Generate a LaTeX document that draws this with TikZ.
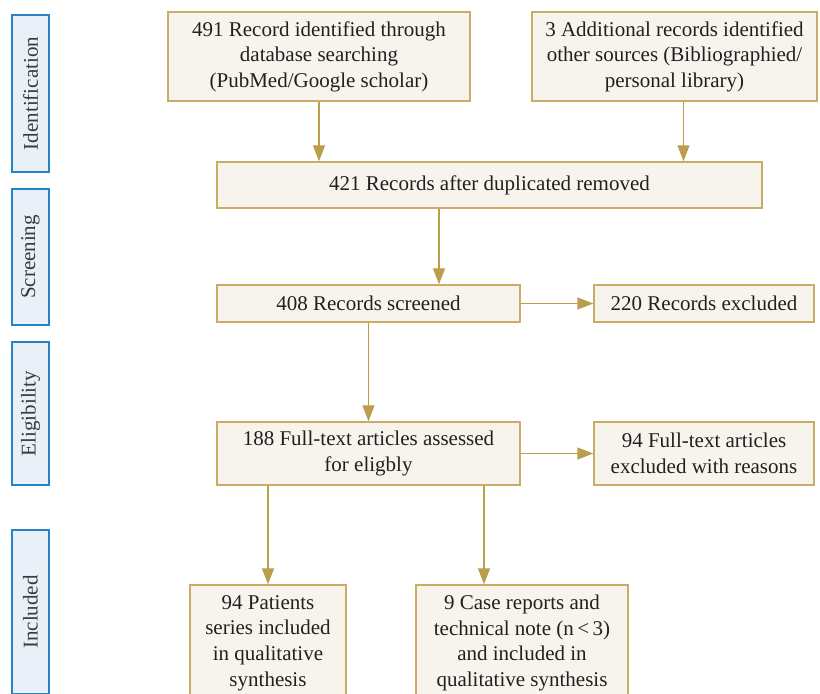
\documentclass[tikz,border=0pt]{standalone}
\usepackage{fontspec}
\setmainfont{Liberation Serif}
\usetikzlibrary{arrows.meta}
\definecolor{boxfill}{HTML}{F7F4EE}
\definecolor{boxline}{HTML}{C9AD66}
\definecolor{arrowc}{HTML}{BB9D4E}
\definecolor{stagefill}{HTML}{E9F0F8}
\definecolor{stageline}{HTML}{2684C6}
\definecolor{ink}{HTML}{231F20}
\definecolor{stageink}{HTML}{3A3A3A}
\tikzset{
  flowbox/.style = {shape=rectangle, draw=boxline, fill=boxfill,
                    line width=0.7pt, align=center, inner sep=0pt,
                    text=ink, font=\fontsize{10.5}{12.8}\selectfont},
  stage/.style   = {shape=rectangle, draw=stageline, fill=stagefill,
                    line width=0.8pt, inner sep=0pt, minimum width=18.5pt,
                    text=stageink, font=\fontsize{10.5}{12}\selectfont},
  flow/.style    = {draw=arrowc, line width=0.7pt,
                    -{Triangle[length=8pt,width=6pt]}}
}
\begin{document}
\begin{tikzpicture}[x=0.5pt, y=-0.5pt]
  \useasboundingbox (0,0) rectangle (820,694);
  \clip (0,0) rectangle (820,694);

  \node [stage, minimum height=78.5pt] (sident) at (30.5,93.5)
    {\rotatebox{90}{Identification}};
  \node [stage, minimum height=68pt] (sscreen) at (30.5,257)
    {\rotatebox{90}{Screening}};
  \node [stage, minimum height=71.5pt] (selig) at (30.5,413.5)
    {\rotatebox{90}{Eligibility}};
  \node [stage, minimum height=82pt] (sincl) at (30.5,612)
    {\rotatebox{90}{Included}};

  \node [flowbox, minimum width=151pt, minimum height=44.5pt] (ident) at (319,56.5)
    {491 Record identified through\\ database searching\\ (PubMed/Google scholar)};
  \node [flowbox, minimum width=142.5pt, minimum height=44.5pt] (other) at (674.5,56.5)
    {3 Additional records identified\\ other sources (Bibliographied/\\ personal library)};
  \node [flowbox, minimum width=272.5pt, minimum height=23pt] (dedup) at (489.5,185)
    {421 Records after duplicated removed};
  \node [flowbox, minimum width=151.5pt, minimum height=18.5pt] (screened) at (368.5,303.5)
    {408 Records screened};
  \node [flowbox, minimum width=110pt, minimum height=18.5pt] (recexcl) at (704,303.5)
    {220 Records excluded};
  \node [flowbox, minimum width=151.5pt, minimum height=31.5pt] (fulltext) at (368.5,453.5)
    {188 Full-text articles assessed\\ for eligbly};
  \node [flowbox, minimum width=110pt, minimum height=31.5pt] (fullexcl) at (704,453.5)
    {94 Full-text articles\\ excluded with reasons};
  \node [flowbox, minimum width=78pt, minimum height=58pt] (series) at (268,643)
    {94 Patients\\ series included\\ in qualitative\\ synthesis};
  \node [flowbox, minimum width=106pt, minimum height=58pt] (cases) at (522,643)
    {9 Case reports and\\ technical note (n\,<\,3)\\ and included in\\ qualitative synthesis};

  \draw [flow] (ident.south) -- (ident.south |- dedup.north);
  \draw [flow] ([xshift=4.5pt]other.south) -- ([xshift=4.5pt]other.south |- dedup.north);
  \draw [flow] ([xshift=-25.25pt]dedup.south) -- ([xshift=-25.25pt]dedup.south |- screened.north);
  \draw [flow] (screened.east) -- (recexcl.west);
  \draw [flow] (screened.south) -- (fulltext.north);
  \draw [flow] (fulltext.east) -- (fullexcl.west);
  \draw [flow] (fulltext.south -| series.north) -- (series.north);
  \draw [flow] ([xshift=57.75pt]fulltext.south) -- ([xshift=57.75pt]fulltext.south |- cases.north);
\end{tikzpicture}
\end{document}
